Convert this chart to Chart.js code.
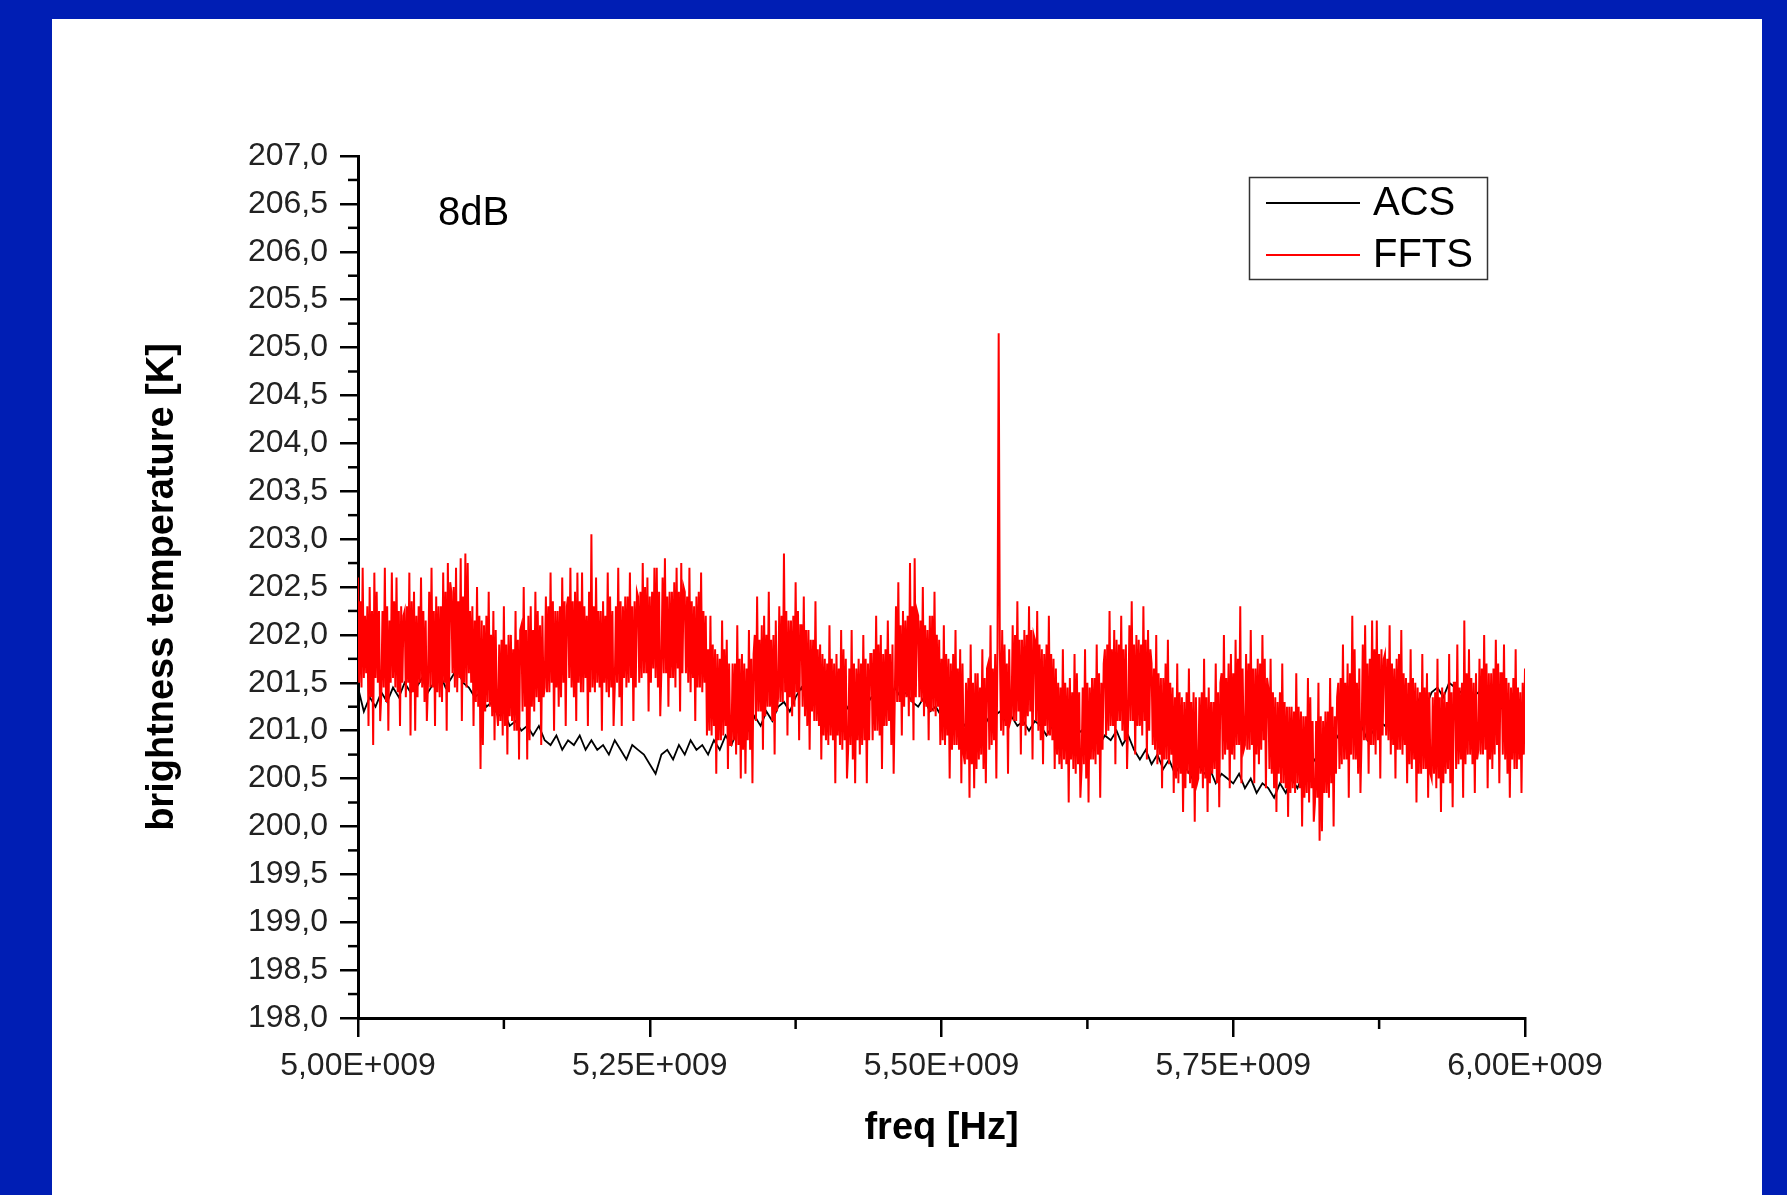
<!DOCTYPE html>
<html>
<head>
<meta charset="utf-8">
<script src="https://cdn.jsdelivr.net/npm/chart.js@4.4.1/dist/chart.umd.min.js"></script>
<style>
  html, body { margin: 0; padding: 0; background: #001EB4; }
  #c { display: block; }
</style>
</head>
<body>
<canvas id="c" width="1787" height="1195"></canvas>
<script>
// ---------------- DATA ----------------
const seriesNames = ['ACS', 'FFTS'];
const annotationText = '8dB';
const xTitle = 'freq [Hz]';
const yTitle = 'brightness temperature [K]';

const xMinHz = 5.0e9, xMaxHz = 6.0e9, xStepHz = 2.5e8;
const yMin = 198.0, yMax = 207.0, yStep = 0.5;

// ACS spectrum: 5 MHz channel spacing starting at 5.00 GHz
const acsStartHz = 5.0e9, acsStepHz = 5.0e6;
const acsValues = [
  201.45, 201.20, 201.35, 201.25, 201.40, 201.30, 201.45, 201.35, 201.50, 201.40,
  201.45, 201.55, 201.40, 201.50, 201.60, 201.45, 201.55, 201.65, 201.50, 201.45,
  201.35, 201.40, 201.25, 201.30, 201.15, 201.20, 201.05, 201.10, 201.00, 201.05,
  200.95, 201.05, 200.90, 200.85, 200.95, 200.80, 200.90, 200.85, 200.95, 200.80,
  200.90, 200.80, 200.85, 200.75, 200.90, 200.80, 200.70, 200.85, 200.80, 200.75,
  200.65, 200.55, 200.75, 200.80, 200.70, 200.85, 200.75, 200.90, 200.80, 200.85,
  200.75, 200.90, 200.80, 200.95, 200.85, 201.00, 201.10, 201.00, 201.15, 201.05,
  201.20, 201.10, 201.25, 201.30, 201.20, 201.35, 201.45, 201.30, 201.40, 201.25,
  201.35, 201.20, 201.30, 201.15, 201.25, 201.20, 201.30, 201.25, 201.35, 201.30,
  201.40, 201.30, 201.45, 201.35, 201.40, 201.30, 201.25, 201.35, 201.20, 201.25,
  201.15, 201.20, 201.10, 201.15, 201.05, 201.15, 201.10, 201.20, 201.10, 201.15,
  201.20, 201.10, 201.15, 201.05, 201.10, 201.00, 201.10, 201.05, 200.95, 201.05,
  200.95, 201.00, 200.90, 200.95, 201.00, 200.90, 200.95, 200.85, 200.95, 200.90,
  201.00, 200.85, 200.95, 200.80, 200.70, 200.80, 200.65, 200.75, 200.60, 200.70,
  200.55, 200.65, 200.60, 200.50, 200.65, 200.55, 200.60, 200.45, 200.55, 200.50,
  200.45, 200.55, 200.40, 200.50, 200.35, 200.45, 200.40, 200.30, 200.45, 200.35,
  200.50, 200.40, 200.55, 200.60, 200.70, 200.65, 200.80, 200.85, 200.95, 200.90,
  201.00, 200.95, 201.05, 200.90, 201.00, 201.10, 201.05, 201.20, 201.10, 201.25,
  201.30, 201.20, 201.35, 201.25, 201.40, 201.45, 201.35, 201.50, 201.45, 201.40,
  201.50, 201.35, 201.40, 201.25, 201.30, 201.15, 201.25, 201.10, 201.20, 201.05,
  201.10
];

// FFTS spectrum: 1 MHz channel spacing starting at 5.00 GHz (20 channels per row)
const fftsStartHz = 5.0e9, fftsStepHz = 1.0e6;
const fftsValues = [
  202.60, 201.50, 202.35, 201.45, 202.70, 201.55, 202.20, 201.60, 202.30, 201.05, 202.50, 201.35, 202.25, 200.85, 202.65, 201.55, 202.45, 201.50, 202.25, 201.10,
  201.40, 202.25, 201.45, 202.70, 201.30, 202.30, 201.00, 202.15, 201.50, 202.65, 201.55, 202.35, 201.45, 202.60, 201.40, 202.25, 201.05, 202.30, 201.50, 202.20,
  202.25, 201.35, 202.30, 201.50, 202.65, 200.95, 202.35, 201.40, 202.45, 201.00, 202.20, 201.35, 202.30, 201.50, 202.60, 201.45, 202.25, 201.30, 202.15, 201.10,
  201.50, 202.45, 201.45, 202.70, 201.45, 202.25, 201.05, 202.40, 201.40, 202.30, 201.35, 202.30, 201.30, 202.65, 201.50, 202.45, 201.00, 202.75, 201.40, 202.55,
  202.45, 201.60, 202.50, 201.45, 202.70, 201.40, 202.35, 201.55, 202.80, 201.10, 202.40, 201.50, 202.85, 201.45, 202.75, 201.60, 202.25, 201.50, 202.30, 201.05,
  202.15, 201.30, 202.50, 201.25, 202.20, 200.60, 202.15, 200.85, 202.10, 201.20, 202.20, 201.30, 202.45, 201.25, 202.00, 201.15, 202.25, 200.90, 202.05, 201.20,
  201.05, 201.90, 201.10, 201.95, 200.95, 202.30, 201.05, 201.90, 200.75, 202.00, 201.15, 202.00, 201.10, 201.85, 201.00, 202.25, 201.00, 201.95, 200.70, 202.05,
  202.10, 201.20, 202.50, 201.25, 202.05, 200.70, 202.20, 200.90, 202.30, 201.25, 202.05, 201.20, 202.45, 201.35, 202.25, 201.30, 202.10, 200.85, 202.20, 201.35,
  201.45, 202.40, 201.40, 202.30, 201.40, 202.65, 201.50, 202.35, 201.00, 202.25, 201.45, 202.25, 201.25, 202.30, 201.35, 202.60, 201.50, 202.35, 201.05, 202.30,
  202.40, 201.55, 202.70, 201.45, 202.35, 201.35, 202.45, 201.10, 202.65, 201.50, 202.35, 201.40, 202.65, 201.40, 202.30, 201.55, 202.20, 201.05, 202.45, 201.40,
  203.05, 201.45, 202.30, 201.40, 202.60, 201.50, 202.25, 201.45, 202.25, 201.00, 202.35, 201.50, 202.20, 201.40, 202.65, 201.35, 202.40, 201.45, 202.25, 201.05,
  201.45, 202.30, 201.50, 202.70, 201.35, 202.35, 201.05, 202.30, 201.55, 202.40, 201.45, 202.40, 201.50, 202.65, 201.55, 202.30, 201.10, 202.35, 201.45, 202.45,
  202.40, 201.50, 202.45, 201.55, 202.75, 201.60, 202.50, 201.60, 202.60, 201.20, 202.40, 201.50, 202.45, 201.65, 202.70, 201.55, 202.70, 201.45, 202.45, 201.15,
  201.65, 202.60, 201.60, 202.80, 201.60, 202.40, 201.25, 202.45, 201.55, 202.45, 201.55, 202.55, 201.45, 202.70, 201.65, 202.45, 201.20, 202.75, 201.60, 202.50,
  202.45, 201.60, 202.40, 201.50, 202.70, 201.40, 202.35, 201.55, 202.30, 201.10, 202.40, 201.45, 202.45, 201.45, 202.65, 201.40, 202.25, 201.50, 202.20, 200.95,
  201.85, 201.00, 202.20, 200.95, 201.90, 201.05, 201.85, 200.55, 201.80, 200.90, 201.75, 200.90, 202.15, 200.95, 201.85, 201.05, 201.95, 200.60, 201.70, 200.85,
  200.85, 201.70, 200.90, 201.70, 200.75, 202.10, 200.85, 201.75, 200.50, 201.80, 200.80, 201.70, 200.55, 201.65, 200.90, 202.05, 200.80, 201.75, 200.45, 201.80,
  202.00, 201.10, 202.40, 201.20, 201.95, 201.20, 202.10, 200.80, 202.20, 201.15, 202.00, 201.25, 202.45, 201.25, 201.95, 201.10, 202.00, 200.75, 202.15, 201.20,
  201.35, 202.30, 201.30, 202.20, 201.30, 202.85, 201.40, 202.25, 200.95, 202.15, 201.35, 202.15, 201.15, 202.20, 201.25, 202.55, 201.40, 202.25, 200.90, 202.10,
  202.10, 201.25, 202.40, 201.15, 202.05, 201.05, 202.05, 200.80, 201.95, 201.20, 201.95, 201.10, 202.35, 201.10, 201.85, 201.05, 201.90, 200.70, 201.80, 200.95,
  201.75, 200.90, 201.70, 200.85, 202.10, 200.95, 201.75, 200.90, 201.70, 200.45, 201.80, 200.95, 201.65, 200.85, 202.05, 200.80, 201.85, 200.90, 201.75, 200.50,
  200.80, 201.65, 200.85, 202.05, 200.70, 201.70, 200.45, 201.65, 200.90, 201.75, 200.75, 201.70, 200.85, 202.00, 200.90, 201.75, 200.45, 201.70, 200.90, 201.80,
  201.80, 200.90, 201.85, 201.00, 202.20, 201.00, 201.90, 200.95, 202.00, 200.60, 201.80, 201.05, 201.85, 201.05, 202.15, 201.10, 201.80, 200.85, 201.90, 200.55,
  201.35, 202.30, 201.30, 202.55, 201.30, 202.10, 200.95, 202.25, 201.25, 202.15, 201.35, 202.20, 201.15, 202.75, 201.30, 202.30, 200.90, 202.80, 201.35, 202.25,
  202.20, 201.35, 202.15, 201.30, 202.50, 201.15, 202.10, 201.25, 202.05, 200.90, 202.20, 201.20, 202.20, 201.20, 202.45, 201.15, 202.00, 201.25, 201.95, 200.85,
  201.75, 200.90, 202.10, 200.85, 201.80, 200.95, 201.75, 200.50, 201.70, 200.80, 201.80, 200.85, 202.05, 200.85, 201.65, 200.80, 201.85, 200.45, 201.70, 200.75,
  200.65, 201.50, 200.70, 201.55, 200.30, 201.90, 200.65, 201.50, 200.40, 201.60, 200.60, 201.60, 200.70, 201.45, 200.75, 201.85, 200.60, 201.55, 200.45, 201.65,
  201.70, 200.80, 202.10, 200.85, 201.65, 200.90, 201.80, 200.50, 201.90, 205.15, 201.85, 201.00, 202.05, 200.95, 201.90, 201.05, 201.70, 200.55, 201.85, 201.10,
  201.15, 202.10, 201.10, 202.00, 201.10, 202.35, 201.20, 201.95, 200.75, 201.95, 201.05, 202.05, 200.95, 202.00, 201.15, 202.30, 201.20, 202.05, 200.70, 202.00,
  201.95, 201.10, 202.25, 201.00, 201.90, 200.90, 201.85, 200.65, 201.80, 201.05, 201.90, 200.95, 202.20, 200.95, 201.80, 200.90, 201.75, 200.60, 201.65, 200.75,
  201.50, 200.65, 201.45, 200.60, 201.85, 200.70, 201.50, 200.65, 201.45, 200.25, 201.55, 200.70, 201.40, 200.60, 201.80, 200.55, 201.60, 200.65, 201.40, 200.30,
  200.60, 201.45, 200.65, 201.85, 200.50, 201.50, 200.25, 201.45, 200.70, 201.55, 200.70, 201.55, 200.65, 201.90, 200.75, 201.60, 200.30, 201.50, 200.80, 201.70,
  201.85, 200.95, 201.90, 201.00, 202.25, 201.05, 201.85, 201.05, 202.05, 200.65, 201.95, 201.10, 201.90, 201.10, 202.20, 201.00, 201.85, 200.90, 201.90, 200.60,
  201.15, 202.10, 201.10, 202.35, 201.10, 201.90, 200.75, 202.00, 201.05, 201.95, 201.05, 201.90, 200.95, 202.30, 201.10, 201.95, 200.70, 202.05, 201.00, 201.85,
  201.70, 200.85, 201.65, 200.80, 202.00, 200.65, 201.60, 200.75, 201.55, 200.40, 201.55, 200.70, 201.70, 200.70, 201.95, 200.65, 201.50, 200.75, 201.45, 200.35,
  201.35, 200.50, 201.70, 200.45, 201.40, 200.55, 201.35, 200.15, 201.30, 200.40, 201.40, 200.55, 201.65, 200.45, 201.30, 200.40, 201.40, 200.05, 201.35, 200.45,
  200.50, 201.35, 200.55, 201.40, 200.40, 201.75, 200.50, 201.35, 200.15, 201.45, 200.45, 201.30, 200.55, 201.30, 200.60, 201.70, 200.45, 201.40, 200.20, 201.50,
  201.60, 200.70, 202.00, 200.75, 201.55, 200.80, 201.70, 200.40, 201.80, 200.75, 201.60, 200.70, 201.95, 200.85, 201.75, 200.85, 202.30, 200.45, 201.65, 200.80,
  200.85, 201.80, 200.80, 201.70, 200.80, 202.05, 200.85, 201.65, 200.45, 201.65, 200.75, 201.75, 200.65, 201.70, 200.80, 202.00, 200.90, 201.75, 200.40, 201.55,
  201.45, 200.60, 201.75, 200.55, 201.40, 200.40, 201.35, 200.15, 201.30, 200.55, 201.40, 200.45, 201.70, 200.45, 201.30, 200.40, 201.25, 200.10, 201.25, 200.35,
  201.25, 200.40, 201.20, 200.35, 201.60, 200.45, 201.25, 200.40, 201.20, 200.00, 201.15, 200.30, 201.15, 200.35, 201.55, 200.25, 201.35, 200.40, 201.10, 200.05,
  200.25, 201.10, 200.30, 201.50, 199.85, 201.15, 199.95, 201.10, 200.35, 201.20, 200.35, 201.20, 200.30, 201.55, 200.45, 201.25, 200.00, 201.15, 200.55, 201.35,
  201.50, 200.60, 201.55, 200.65, 201.90, 200.70, 201.50, 200.70, 201.70, 200.30, 201.60, 200.75, 202.20, 200.70, 201.85, 200.70, 201.50, 200.55, 201.65, 200.35,
  200.95, 201.90, 200.90, 202.10, 200.90, 201.70, 200.55, 201.75, 200.85, 202.15, 200.85, 201.85, 200.75, 202.15, 200.90, 201.80, 200.50, 201.85, 200.95, 201.75,
  201.80, 200.95, 201.75, 200.90, 202.10, 200.75, 201.70, 200.85, 201.65, 200.50, 201.75, 200.80, 201.80, 200.80, 202.05, 200.75, 201.60, 200.85, 201.55, 200.45,
  201.50, 200.65, 201.85, 200.60, 201.55, 200.70, 201.50, 200.25, 201.45, 200.55, 201.40, 200.55, 201.80, 200.60, 201.45, 200.60, 201.60, 200.30, 201.40, 200.55,
  200.50, 201.35, 200.55, 201.40, 200.40, 201.75, 200.50, 201.35, 200.15, 201.45, 200.45, 201.40, 200.55, 201.30, 200.60, 201.80, 200.45, 201.40, 200.20, 201.50,
  201.50, 200.60, 201.90, 200.65, 201.45, 200.70, 201.50, 200.30, 202.15, 200.65, 201.60, 200.75, 201.85, 200.75, 201.55, 200.65, 201.50, 200.35, 201.60, 200.70,
  200.80, 201.75, 200.75, 201.65, 200.75, 202.00, 200.80, 201.70, 200.40, 201.60, 200.70, 201.60, 200.60, 201.65, 200.75, 201.95, 200.85, 201.70, 200.45, 201.60,
  201.60, 200.75, 201.90, 200.70, 201.55, 200.55, 201.50, 200.30, 201.45, 200.70, 201.55, 200.60, 201.85, 200.60, 201.45, 200.70, 201.40, 200.35, 201.50, 200.75,
  201.65
];

// ---------------- BUILD ----------------
const toPoints = (start, step, vals) => vals.map((v, i) => ({ x: start + i * step, y: v }));
const FONT = "'Liberation Sans', Arial, Helvetica, sans-serif";

const pageBg = {
  id: 'pageBg',
  beforeDraw(chart) {
    const ctx = chart.ctx;
    ctx.save();
    ctx.fillStyle = '#001EB4';
    ctx.fillRect(0, 0, chart.width, chart.height);
    ctx.fillStyle = '#ffffff';
    ctx.fillRect(52, 19, 1710, chart.height - 19);
    ctx.restore();
  }
};

const minorTicks = {
  id: 'minorTicks',
  afterDraw(chart) {
    const ctx = chart.ctx;
    const xs = chart.scales.x, ys = chart.scales.y;
    ctx.save();
    ctx.strokeStyle = '#000';
    ctx.lineWidth = 2.5;
    const ya = ys.ticks;
    const left = chart.chartArea.left;
    for (let i = 0; i < ya.length - 1; i++) {
      const p = ys.getPixelForValue((ya[i].value + ya[i + 1].value) / 2);
      ctx.beginPath(); ctx.moveTo(left - 10, p); ctx.lineTo(left, p); ctx.stroke();
    }
    const xa = xs.ticks;
    const bottom = chart.chartArea.bottom;
    for (let i = 0; i < xa.length - 1; i++) {
      const p = xs.getPixelForValue((xa[i].value + xa[i + 1].value) / 2);
      ctx.beginPath(); ctx.moveTo(p, bottom); ctx.lineTo(p, bottom + 11); ctx.stroke();
    }
    ctx.restore();
  }
};

const legendBox = {
  id: 'legendBox',
  afterDraw(chart) {
    const ctx = chart.ctx;
    const ds = chart.data.datasets;
    ctx.save();
    ctx.strokeStyle = '#333';
    ctx.lineWidth = 1.5;
    ctx.strokeRect(1249.5, 177.5, 238, 102);
    ctx.font = '40px ' + FONT;
    ctx.textBaseline = 'middle';
    ctx.textAlign = 'left';
    ds.forEach((d, i) => {
      const y = 203 + i * 52;
      ctx.strokeStyle = d.borderColor;
      ctx.lineWidth = 2;
      ctx.beginPath(); ctx.moveTo(1266, y); ctx.lineTo(1360, y); ctx.stroke();
      ctx.fillStyle = '#000';
      ctx.fillText(d.label, 1373, y + 1);
    });
    ctx.font = '40px ' + FONT;
    ctx.fillText(annotationText, 438, 214);
    ctx.restore();
  }
};

new Chart(document.getElementById('c'), {
  type: 'line',
  data: {
    datasets: [
      {
        label: seriesNames[0],
        data: toPoints(acsStartHz, acsStepHz, acsValues),
        borderColor: '#000000',
        borderWidth: 1.8,
        pointRadius: 0,
        tension: 0,
        order: 2
      },
      {
        label: seriesNames[1],
        data: toPoints(fftsStartHz, fftsStepHz, fftsValues),
        borderColor: '#FF0000',
        borderWidth: 2,
        pointRadius: 0,
        tension: 0,
        order: 1
      }
    ]
  },
  options: {
    responsive: false,
    animation: false,
    events: [],
    layout: { padding: { left: 0, top: 156, right: 262, bottom: 0 } },
    plugins: {
      legend: { display: false },
      tooltip: { enabled: false }
    },
    scales: {
      x: {
        type: 'linear',
        min: xMinHz, max: xMaxHz,
        afterFit(s) { s.height = 177; },
        border: { display: true, color: '#000', width: 3 },
        grid: { drawOnChartArea: false, drawTicks: true, tickLength: 19, color: '#000', lineWidth: 2.5 },
        ticks: {
          stepSize: xStepHz,
          autoSkip: false,
          maxRotation: 0,
          padding: 10,
          color: '#222',
          font: { family: FONT, size: 32 },
          callback: v => (v / 1e9).toFixed(2).replace('.', ',') + 'E+009'
        },
        title: {
          display: true,
          text: xTitle,
          color: '#000',
          font: { family: FONT, size: 38, weight: 'bold' },
          padding: { top: 0, bottom: 44 }
        }
      },
      y: {
        type: 'linear',
        min: yMin, max: yMax,
        afterFit(s) { s.width = 358; },
        border: { display: true, color: '#000', width: 3 },
        grid: { drawOnChartArea: false, drawTicks: true, tickLength: 18, color: '#000', lineWidth: 2.5 },
        ticks: {
          stepSize: yStep,
          autoSkip: false,
          padding: 12,
          color: '#222',
          font: { family: FONT, size: 32 },
          callback: v => v.toFixed(1).replace('.', ',')
        },
        title: {
          display: true,
          text: yTitle,
          color: '#000',
          font: { family: FONT, size: 38, weight: 'bold' },
          padding: { top: 140, bottom: 0 }
        }
      }
    }
  },
  plugins: [pageBg, minorTicks, legendBox]
});
</script>
</body>
</html>
